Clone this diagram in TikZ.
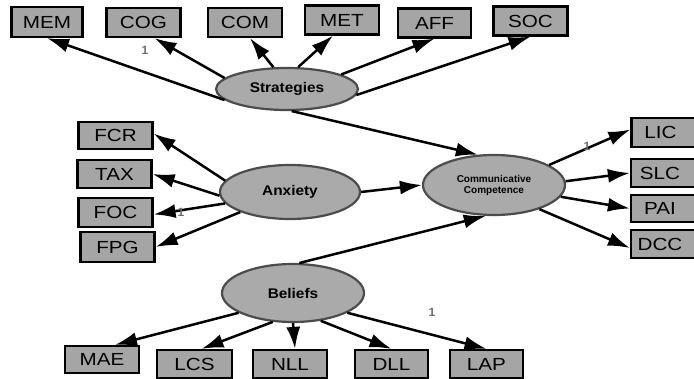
\documentclass[tikz,border=0pt]{standalone}
\usepackage{fontspec}
\usepackage{graphicx}
\setmainfont{Liberation Sans}
\usetikzlibrary{arrows.meta,shapes.geometric}
\definecolor{boxgray}{RGB}{165,165,165}
\definecolor{ellgray}{RGB}{170,170,170}
\definecolor{lblgray}{RGB}{110,110,110}
\newcommand{\wide}[1]{\scalebox{1.18}[1]{#1}}
\tikzset{
  obs/.style={draw=black, line width=2.2pt, fill=boxgray, minimum width=74pt, minimum height=29pt, inner sep=0pt, font=\fontsize{17.5}{19}\selectfont},
  lat/.style={draw=black!70, line width=2.2pt, fill=ellgray, ellipse, inner sep=0pt, font=\bfseries\fontsize{14}{16}\selectfont},
  semarrow/.style={line width=2.5pt, -{Latex[length=22pt,width=14pt]}},
  one/.style={text=lblgray, font=\bfseries\fontsize{12}{13}\selectfont}
}
\begin{document}
\begin{tikzpicture}[x=1pt,y=-1pt]
\useasboundingbox (0,0) rectangle (694,379);
\clip (0,0) rectangle (694,379);
% latent variables
\node[lat, minimum width=142pt, minimum height=42pt] (strat) at (287,89) {\scalebox{1.1}[1]{Strategies}};
\node[lat, minimum width=140pt, minimum height=54pt] (anx) at (290,192) {\scalebox{1.1}[1]{Anxiety}};
\node[lat, minimum width=142pt, minimum height=58pt] (bel) at (293,293) {\scalebox{1.1}[1]{Beliefs}};
\node[lat, minimum width=142pt, minimum height=60pt, align=center, font=\bfseries\fontsize{10}{11}\selectfont] (cc) at (494,185) {Communicative\\Competence};
% top boxes
\node[obs, minimum width=71pt, minimum height=30pt] (mem) at (47,22) {\wide{MEM}};
\node[obs] (cog) at (143.5,22.5) {\wide{COG}};
\node[obs] (com) at (245,22.5) {\wide{COM}};
\node[obs] (met) at (342,20) {\wide{MET}};
\node[obs, minimum width=73pt] (aff) at (434.5,23) {\wide{AFF}};
\node[obs] (soc) at (530.5,21) {\wide{SOC}};
% left boxes
\node[obs, minimum height=27pt] (fcr) at (115.5,135.5) {\wide{FCR}};
\node[obs, minimum height=28pt] (tax) at (114.5,174) {\wide{TAX}};
\node[obs] (foc) at (115.5,212.5) {\wide{FOC}};
\node[obs, minimum height=30pt] (fpg) at (117.5,247) {\wide{FPG}};
% right boxes
\node[obs, minimum width=75pt] (lic) at (669,132.5) {\hspace*{-17pt}\wide{LIC}};
\node[obs, minimum width=75pt, minimum height=28pt] (slc) at (668.5,173) {\hspace*{-17pt}\wide{SLC}};
\node[obs, minimum width=75pt, minimum height=27pt] (pai) at (668.5,208.5) {\hspace*{-17pt}\wide{PAI}};
\node[obs, minimum width=75pt, minimum height=28pt] (dcc) at (668.5,244) {\hspace*{-17pt}\wide{DCC}};
% bottom boxes
\node[obs, minimum height=27pt] (mae) at (102,359.5) {\wide{MAE}};
\node[obs, minimum width=75pt, minimum height=28pt] (lcs) at (194.5,364) {\wide{LCS}};
\node[obs, minimum height=28pt] (nll) at (290,364) {\wide{NLL}};
\node[obs, minimum width=73pt, minimum height=28pt] (dll) at (391.5,364) {\wide{DLL}};
\node[obs, minimum width=73pt, minimum height=28pt] (lap) at (486.5,364) {\wide{LAP}};
% strategies paths
\draw[semarrow] (strat.190) -- (mem.south);
\draw[semarrow] (strat.170) -- ([xshift=11pt]cog.south);
\draw[semarrow] (strat.122) -- ([xshift=5pt]com.south);
\draw[semarrow] (strat.63) -- ([xshift=-9pt]met.south);
\draw[semarrow] (strat.15) -- (aff.south);
\draw[semarrow] (strat.-5) -- (soc.south);
% anxiety paths
\draw[semarrow] (anx.170) -- ([yshift=2pt]fcr.east);
\draw[semarrow] (anx.183) -- (tax.east);
\draw[semarrow] (anx.190) -- ([yshift=-2pt]foc.east);
\draw[semarrow] (anx.202) -- (fpg.east);
% structural paths
\draw[semarrow] (strat.-78) -- (cc.118);
\draw[semarrow] (anx.east) -- (cc.west);
\draw[semarrow] (bel.78) -- (cc.-105);
% cc paths
\draw[semarrow] (cc.20) -- ([yshift=3pt]lic.west);
\draw[semarrow] (cc.3) -- (slc.west);
\draw[semarrow] (cc.-10) -- (pai.west);
\draw[semarrow] (cc.-28) -- ([yshift=-4pt]dcc.west);
% beliefs paths
\draw[semarrow] (bel.200) -- ([xshift=13pt]mae.north);
\draw[semarrow] (bel.235) -- ([xshift=7pt]lcs.north);
\draw[semarrow] (bel.south) -- ([xshift=5pt]nll.north);
\draw[semarrow] (bel.-45) -- (dll.north);
\draw[semarrow] (bel.-20) -- (lap.north);
% loadings fixed to 1
\node[one] (l1) at (145,50) {1};
\node[one] (l2) at (181,212) {1};
\node[one] (l3) at (587,146) {1};
\node[one] (l4) at (432,312) {1};
\end{tikzpicture}
\end{document}
